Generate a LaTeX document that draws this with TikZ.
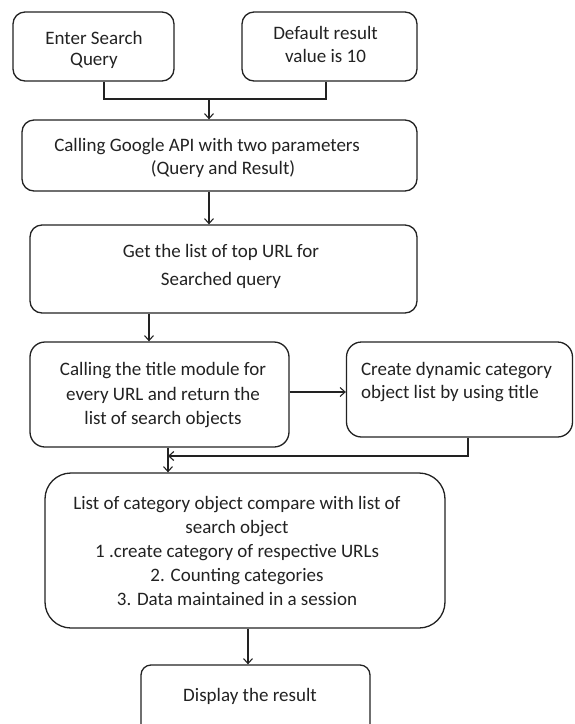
\documentclass[tikz,border=0pt]{standalone}
\usepackage{fontspec}
\setmainfont{Carlito}
\usetikzlibrary{arrows.meta}
\definecolor{ink}{HTML}{222222}
\tikzset{
  box/.style={draw=ink, line width=1.3pt, rounded corners=#1, inner sep=0pt},
  box/.default=12pt,
  txt/.style={text=ink, align=center, inner sep=0pt, font=\fontsize{19}{#1}\selectfont},
  txt/.default=24,
  conn/.style={draw=ink, line width=1.2pt},
  arr/.style={conn, -{Straight Barb[length=5pt,width=9pt,line width=1.1pt]}}
}
\begin{document}
\begin{tikzpicture}[x=1pt,y=-1pt]
\clip (0,0) rectangle (574,724);
\fill[white] (0,0) rectangle (574,724);
% boxes
\node[box, minimum width=161pt, minimum height=69pt] (b1) at (93.5,46.5) {};
\node[box, minimum width=175pt, minimum height=69pt] (b2) at (329.5,46.5) {};
\node[box, minimum width=395pt, minimum height=71pt] (b3) at (219.5,155.5) {};
\node[box, minimum width=387pt, minimum height=88pt] (b4) at (223.5,269) {};
\node[box=15pt, minimum width=259pt, minimum height=105pt] (b5) at (159.5,394.5) {};
\node[box=15pt, minimum width=226pt, minimum height=95pt] (b6) at (459.5,389.5) {};
\node[box=26pt, minimum width=400pt, minimum height=155pt] (b7) at (245,550.5) {};
\node[box=10pt, minimum width=229pt, minimum height=80pt] (b8) at (255.5,705) {};
% texts
\node[txt=21] (t1) at (94,49.5) {Enter Search\\Query};
\node[txt=23] (t2) at (325.5,44.5) {Default result\\value is 10};
\node[txt=23] (t3) at (207,157.5) {Calling Google API with two parameters\\\hspace*{32pt}(Query and Result)};
\node[txt=28] (t4) at (221,266) {Get the list of top URL for\\Searched query};
\node[txt=24.5] (t5) at (163,395.5) {Calling the title module for\\every URL and return the\\list of search objects};
\node[txt=23, align=left] (t6) at (456.5,382.5) {Create dynamic category\\object list by using title};
\node[txt=24] (t7) at (237,551) {List of category object compare with list of\\search object\\1 .create category of respective URLs\\2. Counting categories\\3. Data maintained in a session};
\node[txt] (t8) at (250,696) {Display the result};
% helper coordinates
\coordinate (x1) at (104,0);
\coordinate (x2) at (326,0);
\coordinate (j1) at (209,99);
\coordinate (x3) at (149,0);
\coordinate (y1) at (0,392);
\coordinate (x4) at (468,0);
\coordinate (j2) at (168,456);
\coordinate (x5) at (248,0);
% connectors
\draw[conn] (b1.south -| x1) |- (j1) -| (b2.south -| x2);
\draw[arr] (j1) -- (b3.north -| j1);
\draw[arr] (b3.south -| j1) -- (b4.north -| j1);
\draw[arr] (b4.south -| x3) -- (b5.north -| x3);
\draw[arr] (b5.east |- y1) -- (b6.west |- y1);
\draw[arr] (b6.south -| x4) |- (j2);
\draw[arr] (b5.south -| j2) -- (b7.north -| j2);
\draw[arr] (b7.south -| x5) -- (b8.north -| x5);
\end{tikzpicture}
\end{document}
